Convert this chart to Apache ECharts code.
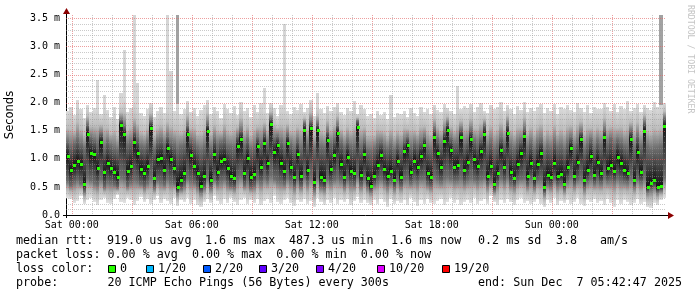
<!DOCTYPE html>
<html><head><meta charset="utf-8">
<script src="https://cdn.jsdelivr.net/npm/echarts@6/dist/echarts.min.js"></script>
<style>html,body{margin:0;padding:0;background:#fff}#c{width:697px;height:297px}</style>
</head><body><div id="c"></div>
<script>
// time in hours relative to Sat 00:00; first 10-minute bin centred at START
const START = -0.2;
const STEP = 1 / 6;
const XMIN = -0.2866, XMAX = 29.7134;   // 30 h window ending Sun 05:42:47
const YMAX = 3.56;                       // ms

const median = [
1.05,0.80,0.89,0.97,0.90,0.55,1.45,1.10,1.08,0.83,
1.30,0.76,0.92,0.83,0.77,0.68,1.60,1.44,0.78,0.87,
1.30,1.10,0.82,0.75,0.87,1.55,0.65,1.00,1.02,0.80,
1.20,1.00,0.83,0.49,0.62,0.74,1.44,1.07,0.87,0.75,
0.52,0.69,1.50,0.63,1.08,0.77,0.97,1.00,0.83,0.69,
0.65,1.23,1.36,0.74,1.02,0.67,0.73,1.23,0.85,1.29,
0.92,1.62,1.13,1.24,0.92,0.78,1.29,0.85,0.67,1.08,
0.69,1.52,0.80,1.54,0.58,1.51,0.68,0.62,1.34,0.81,
1.07,1.46,0.90,0.68,1.04,0.78,0.75,1.56,0.71,1.08,
0.65,0.52,0.69,0.89,1.07,0.81,0.69,0.79,0.63,0.97,
0.68,1.14,1.24,0.77,0.97,0.85,1.05,1.24,0.75,0.68,
1.38,1.11,0.85,1.32,1.52,1.16,0.86,0.89,1.39,0.80,
0.95,1.36,0.99,0.87,1.14,1.45,0.69,0.87,0.55,0.75,
1.16,0.85,1.46,0.77,0.65,0.91,1.10,1.40,0.69,0.93,
0.65,0.91,1.11,0.50,0.71,0.68,0.93,0.69,0.73,0.56,
0.85,1.20,0.70,0.95,1.35,0.62,0.80,1.05,0.72,0.95,
0.74,1.38,0.83,0.89,0.79,1.04,0.93,0.80,0.75,1.36,
0.62,1.13,0.77,1.50,0.50,0.57,0.62,0.50,0.51,1.58];

const minRtt = [
0.30,0.28,0.22,0.25,0.33,0.20,0.27,0.30,0.24,0.18,
0.26,0.31,0.22,0.19,0.28,0.35,0.24,0.21,0.30,0.27,
0.17,0.25,0.32,0.23,0.29,0.20,0.26,0.34,0.22,0.28,
0.25,0.19,0.30,0.16,0.27,0.23,0.31,0.20,0.26,0.18,
0.14,0.24,0.29,0.21,0.33,0.25,0.19,0.28,0.22,0.30,
0.24,0.18,0.27,0.31,0.20,0.26,0.22,0.29,0.17,0.25,
0.28,0.21,0.33,0.24,0.19,0.27,0.30,0.22,0.16,0.26,
0.23,0.29,0.20,0.25,0.15,0.31,0.24,0.18,0.27,0.22,
0.30,0.19,0.26,0.23,0.28,0.17,0.25,0.32,0.21,0.27,
0.22,0.17,0.26,0.20,0.29,0.24,0.15,0.28,0.19,0.25,
0.21,0.27,0.18,0.30,0.23,0.16,0.26,0.20,0.29,0.22,
0.19,0.25,0.28,0.17,0.24,0.30,0.21,0.26,0.18,0.23,
0.27,0.22,0.31,0.19,0.25,0.28,0.20,0.33,0.24,0.18,
0.26,0.21,0.29,0.23,0.17,0.27,0.30,0.22,0.25,0.19,
0.24,0.28,0.20,0.15,0.26,0.22,0.30,0.18,0.25,0.21,
0.27,0.20,0.24,0.31,0.19,0.16,0.26,0.23,0.28,0.21,
0.25,0.18,0.29,0.22,0.14,0.26,0.20,0.27,0.23,0.17,
0.21,0.28,0.19,0.24,0.15,0.13,0.22,0.18,0.26,0.30];

const lowerQ = [
0.60,0.52,0.58,0.62,0.55,0.42,0.66,0.61,0.57,0.54,
0.63,0.50,0.59,0.56,0.53,0.48,0.68,0.64,0.51,0.58,
0.62,0.60,0.55,0.50,0.57,0.65,0.47,0.61,0.59,0.53,
0.64,0.58,0.56,0.40,0.46,0.52,0.66,0.60,0.57,0.51,
0.41,0.49,0.67,0.48,0.62,0.55,0.60,0.63,0.56,0.50,
0.49,0.65,0.69,0.53,0.61,0.48,0.52,0.64,0.57,0.66,
0.60,0.70,0.63,0.61,0.58,0.55,0.65,0.59,0.50,0.62,
0.51,0.67,0.56,0.66,0.45,0.68,0.50,0.47,0.64,0.58,
0.62,0.66,0.60,0.51,0.61,0.55,0.53,0.69,0.52,0.63,
0.50,0.42,0.53,0.60,0.64,0.58,0.52,0.57,0.48,0.61,
0.51,0.63,0.65,0.56,0.62,0.59,0.64,0.66,0.55,0.52,
0.67,0.63,0.58,0.65,0.69,0.64,0.60,0.61,0.66,0.57,
0.62,0.66,0.63,0.59,0.64,0.67,0.53,0.60,0.44,0.56,
0.65,0.59,0.68,0.55,0.50,0.61,0.64,0.67,0.52,0.62,
0.50,0.61,0.63,0.40,0.54,0.52,0.62,0.53,0.56,0.45,
0.60,0.66,0.54,0.62,0.65,0.48,0.58,0.63,0.55,0.61,
0.56,0.67,0.60,0.62,0.58,0.64,0.61,0.59,0.57,0.65,
0.50,0.63,0.58,0.67,0.42,0.46,0.50,0.41,0.43,0.66];

const upperQ = [
1.30,1.22,1.28,1.35,1.25,1.18,1.60,1.38,1.33,1.27,
1.45,1.20,1.31,1.24,1.19,1.15,1.70,1.58,1.26,1.30,
1.48,1.36,1.23,1.21,1.29,1.66,1.17,1.32,1.34,1.25,
1.40,1.29,1.26,1.16,1.22,1.24,1.58,1.33,1.28,1.20,
1.15,1.21,1.62,1.19,1.35,1.25,1.30,1.34,1.23,1.22,
1.20,1.40,1.50,1.24,1.33,1.18,1.21,1.38,1.27,1.45,
1.28,1.72,1.36,1.41,1.30,1.22,1.44,1.26,1.18,1.33,
1.20,1.64,1.25,1.66,1.17,1.63,1.21,1.19,1.48,1.27,
1.34,1.58,1.29,1.20,1.30,1.23,1.22,1.68,1.21,1.32,
1.16,1.14,1.18,1.27,1.30,1.22,1.17,1.24,1.15,1.26,
1.18,1.32,1.38,1.21,1.28,1.24,1.30,1.39,1.20,1.17,
1.52,1.35,1.26,1.48,1.64,1.36,1.27,1.29,1.52,1.25,
1.30,1.50,1.33,1.26,1.35,1.60,1.21,1.29,1.16,1.23,
1.36,1.27,1.62,1.24,1.18,1.28,1.33,1.54,1.20,1.30,
1.17,1.29,1.34,1.14,1.22,1.19,1.31,1.20,1.23,1.15,
1.28,1.38,1.20,1.30,1.47,1.16,1.25,1.34,1.19,1.31,
1.24,1.52,1.27,1.36,1.25,1.33,1.29,1.22,1.20,1.50,
1.18,1.40,1.23,1.64,1.21,1.17,1.19,1.20,1.22,1.72];

const maxRtt = [
1.85,1.92,1.78,2.05,1.88,1.72,1.95,1.83,1.90,1.98,
1.80,2.02,1.87,1.75,1.93,1.70,2.00,2.10,1.84,1.91,
2.05,1.96,1.82,1.77,1.89,1.99,1.74,1.86,1.92,1.81,
2.00,1.94,1.85,1.97,1.79,1.88,2.03,1.83,1.91,1.76,
1.87,1.95,2.04,1.80,1.92,1.85,1.73,1.98,1.89,1.82,
1.94,1.78,2.01,1.86,1.90,1.75,1.96,1.84,1.99,1.88,
1.82,2.00,1.91,1.77,1.95,2.02,1.86,1.79,1.93,1.87,
1.98,1.84,1.90,2.05,1.76,1.96,1.88,1.81,1.94,1.85,
1.92,1.99,1.83,1.78,1.90,1.86,2.03,1.80,1.95,1.89,
1.76,1.80,1.72,1.85,1.78,1.83,1.70,1.88,1.74,1.82,
1.79,1.86,1.75,1.90,1.81,1.77,1.93,1.84,1.88,1.80,
1.95,1.87,1.83,1.98,1.91,1.85,1.79,2.00,1.89,1.94,
1.90,1.97,1.84,1.92,1.99,1.86,1.81,1.95,1.88,1.93,
2.01,1.85,1.96,1.89,1.80,1.94,1.87,2.02,1.83,1.91,
1.86,1.93,1.98,1.82,1.90,1.85,1.97,1.79,1.92,1.88,
1.95,1.87,1.83,1.99,1.90,1.84,1.96,1.81,1.93,1.89,
1.88,2.00,1.92,1.85,1.97,1.83,1.94,1.89,2.03,1.86,
1.91,1.98,1.84,1.95,1.90,1.87,2.01,1.93,1.96,1.99];

// isolated outliers above the smoke (hours, ms)
const lightSpikeTime = [1.30, 1.63, 2.47, 2.63, 3.13, 3.30, 4.80, 4.97, 9.63, 10.63, 12.30, 15.97, 19.30];
const lightSpikeTop  = [2.40, 2.13, 2.17, 2.94, 3.56, 2.35, 3.56, 2.57, 2.26, 3.40, 2.17, 2.14, 2.30];
const darkSpikeTime  = [5.30, 29.47];
const darkSpikeTop   = [3.56, 3.56];

const xTickHours  = [0, 6, 12, 18, 24];
const xTickLabels = ['Sat 00:00', 'Sat 06:00', 'Sat 12:00', 'Sat 18:00', 'Sun 00:00'];
const lossLabels  = ['0', '1/20', '2/20', '3/20', '4/20', '10/20', '19/20'];
const lossColors  = ['#26ff00', '#00b8ff', '#0059ff', '#5e00ff', '#7e00ff', '#dd00ff', '#ff0000'];

const legendLine1 = [
  ['median rtt:', 16], ['919.0 us avg', 107], ['1.6 ms max', 205], ['487.3 us min', 289],
  ['1.6 ms now', 391], ['0.2 ms sd', 478], ['3.8', 556], ['am/s', 600]];
const legendLine2 = 'packet loss: 0.00 % avg  0.00 % max  0.00 % min  0.00 % now';
const legendLine4a = 'probe:       20 ICMP Echo Pings (56 Bytes) every 300s';
const legendLine4b = 'end: Sun Dec  7 05:42:47 2025';
const lossBoxX = [108, 146, 203, 259, 316, 377, 442];

const MONO = '"DejaVu Sans Mono", "Liberation Mono", monospace';

const smokeData = median.map((m, i) => [START + i * STEP, minRtt[i], lowerQ[i], m, upperQ[i], maxRtt[i]]);
const medData = median.map((m, i) => [START + i * STEP, m]);
const lightSpikes = lightSpikeTime.map((t, i) => [t, lightSpikeTop[i]]);
const darkSpikes = darkSpikeTime.map((t, i) => [t, darkSpikeTop[i]]);

const gridData = [];
for (let h = 0; h <= 29; h++) gridData.push([h, 0, 0, h % 3 === 0 ? 1 : 0]);
for (let k = 1; k <= 35; k++) gridData.push([XMIN, k / 10, 1, k % 5 === 0 ? 1 : 0]);

function renderSmoke(params, api) {
  const t = api.value(0), lo = api.value(1), q1 = api.value(2), md = api.value(3), q3 = api.value(4), hi = api.value(5);
  const xl = Math.round(api.coord([t - STEP / 2, 0])[0]);
  const xr = Math.round(api.coord([t + STEP / 2, 0])[0]);
  const yt = Math.round(api.coord([t, hi])[1]);
  const yb = Math.round(api.coord([t, lo])[1]);
  const span = hi - lo;
  const off = v => Math.min(1, Math.max(0, (hi - v) / span));
  const o3 = off(q3), om = Math.max(o3, off(md)), o1 = Math.max(om, off(q1));
  const grad = new echarts.graphic.LinearGradient(0, 0, 0, 1, [
    { offset: 0, color: '#dadada' },
    { offset: o3 * 0.55, color: '#bdbdbd' },
    { offset: o3, color: '#6e6e6e' },
    { offset: om, color: '#161616' },
    { offset: o1, color: '#6e6e6e' },
    { offset: o1 + (1 - o1) * 0.45, color: '#b4b4b4' },
    { offset: 1, color: '#e2e2e2' }]);
  return { type: 'rect', shape: { x: xl, y: yt, width: xr - xl, height: yb - yt }, style: { fill: grad } };
}
function spikeRenderer(color) {
  return function (params, api) {
    const t = api.value(0), top = api.value(1);
    const xl = Math.round(api.coord([t - STEP / 2, 0])[0]);
    const xr = Math.round(api.coord([t + STEP / 2, 0])[0]);
    const yt = Math.round(api.coord([t, top])[1]);
    const yb = Math.round(api.coord([t, 1.2])[1]);
    return { type: 'rect', shape: { x: xl, y: yt, width: xr - xl, height: yb - yt }, style: { fill: color } };
  };
}
function renderMedian(params, api) {
  const p = api.coord([api.value(0), api.value(1)]);
  return { type: 'rect', shape: { x: Math.round(p[0]) - 1, y: Math.round(p[1]) - 1, width: 3, height: 3 }, style: { fill: lossColors[0] } };
}
function renderGrid(params, api) {
  const kind = api.value(2), major = api.value(3);
  const color = major ? 'rgba(225,95,95,0.6)' : 'rgba(150,150,150,0.5)';
  let shape;
  if (kind === 0) {
    const x = Math.round(api.coord([api.value(0), 0])[0]) + 0.5;
    shape = { x1: x, y1: api.coord([XMIN, YMAX])[1], x2: x, y2: api.coord([XMIN, 0])[1] };
  } else {
    const y = Math.round(api.coord([XMIN, api.value(1)])[1]) + 0.5;
    shape = { x1: api.coord([XMIN, 0])[0], y1: y, x2: api.coord([XMAX, 0])[0], y2: y };
  }
  return { type: 'line', shape: shape, style: { stroke: color, lineWidth: 1, lineDash: [1, 1] } };
}

const graphics = [];
const txt = (text, x, y, extra) => graphics.push(Object.assign({
  type: 'text', x: x, y: y, silent: true,
  style: { text: text, fill: '#000', font: '11.7px ' + MONO, textVerticalAlign: 'middle', textAlign: 'left' }
}, extra || {}));
legendLine1.forEach(s => txt(s[0], s[1], 241));
txt(legendLine2, 16, 255);
txt('loss color:', 16, 269);
lossLabels.forEach((l, i) => {
  graphics.push({ type: 'rect', silent: true, shape: { x: lossBoxX[i] + 0.5, y: 265.5, width: 7, height: 7 },
    style: { fill: lossColors[i], stroke: '#000', lineWidth: 1 } });
  txt(l, lossBoxX[i] + 12, 269);
});
txt(legendLine4a, 16, 283);
txt(legendLine4b, 478, 283);
graphics.push({ type: 'text', x: 690, y: 5, rotation: -Math.PI / 2, silent: true,
  style: { text: 'RRDTOOL / TOBI OETIKER', fill: '#c4c4c4', font: '8.2px ' + MONO, textAlign: 'left', textVerticalAlign: 'middle' } });
graphics.push({ type: 'polygon', silent: true, shape: { points: [[66.5, 8], [63, 14], [70, 14]] }, style: { fill: '#8b0000' } });
graphics.push({ type: 'polygon', silent: true, shape: { points: [[674, 215.5], [668, 212], [668, 219]] }, style: { fill: '#8b0000' } });
graphics.push({ type: 'line', silent: true, shape: { x1: 66.5, y1: 14, x2: 66.5, y2: 218 }, style: { stroke: '#000', lineWidth: 1 } });
graphics.push({ type: 'line', silent: true, shape: { x1: 63, y1: 215.5, x2: 668, y2: 215.5 }, style: { stroke: '#000', lineWidth: 1 } });

const chart = echarts.init(document.getElementById('c'), null, { renderer: 'canvas' });
chart.setOption({
  animation: false,
  backgroundColor: '#fff',
  grid: { left: 66, top: 15, width: 600, height: 200, containLabel: false, outerBoundsMode: 'none' },
  xAxis: {
    type: 'value', min: XMIN, max: XMAX,
    axisLine: { show: false }, axisTick: { show: false }, splitLine: { show: false },
    axisLabel: {
      customValues: xTickHours,
      formatter: v => { const i = xTickHours.indexOf(Math.round(v * 1000) / 1000); return i >= 0 ? xTickLabels[i] : ''; },
      color: '#000', fontFamily: MONO, fontSize: 10, margin: 5
    }
  },
  yAxis: {
    type: 'value', min: 0, max: YMAX, interval: 0.5,
    axisLine: { show: false }, axisTick: { show: false }, splitLine: { show: false },
    axisLabel: {
      formatter: v => v === 0 ? '0.0' : v.toFixed(1) + ' m',
      showMaxLabel: false, color: '#000', fontFamily: MONO, fontSize: 10, margin: 6
    },
    name: 'Seconds', nameLocation: 'middle', nameGap: 50,
    nameTextStyle: { fontFamily: '"DejaVu Sans", sans-serif', fontSize: 11.5, color: '#000' }
  },
  series: [
    { type: 'custom', name: 'lightSpikes', renderItem: spikeRenderer('#d6d6d6'), data: lightSpikes, encode: { x: 0, y: 1 }, silent: true, z: 1 },
    { type: 'custom', name: 'darkSpikes', renderItem: spikeRenderer('#a2a2a2'), data: darkSpikes, encode: { x: 0, y: 1 }, silent: true, z: 1 },
    { type: 'custom', name: 'smoke', renderItem: renderSmoke, data: smokeData, encode: { x: 0, y: [1, 5] }, silent: true, z: 2 },
    { type: 'custom', name: 'grid', renderItem: renderGrid, data: gridData, encode: { x: 0, y: 1 }, silent: true, z: 3 },
    { type: 'custom', name: 'median', renderItem: renderMedian, data: medData, encode: { x: 0, y: 1 }, silent: true, z: 4 }
  ],
  graphic: graphics
});
</script></body></html>
